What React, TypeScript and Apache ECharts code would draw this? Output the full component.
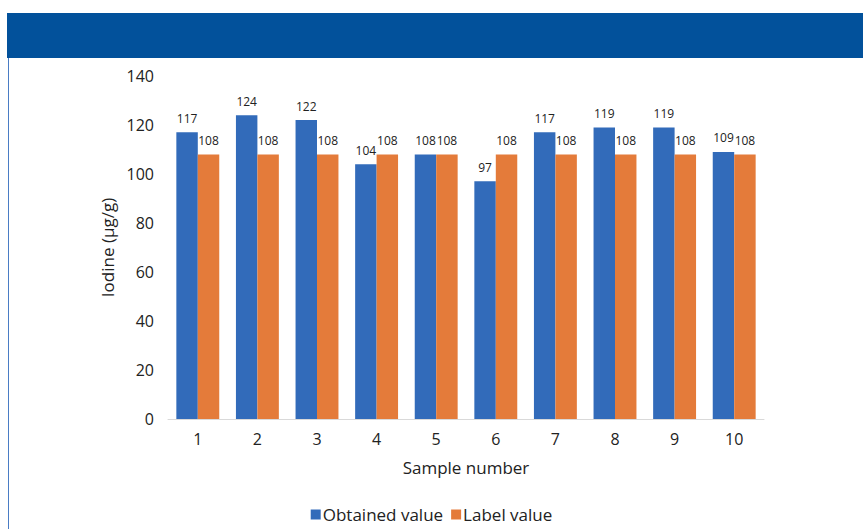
import React, { useEffect, useRef } from "react";
import * as echarts from "echarts";

const categories = ["1", "2", "3", "4", "5", "6", "7", "8", "9", "10"];
const obtainedValues = [117, 124, 122, 104, 108, 97, 117, 119, 119, 109];
const labelValues = [108, 108, 108, 108, 108, 108, 108, 108, 108, 108];

const FONT = "'Open Sans', 'Noto Sans', sans-serif";

export default function App() {
  const ref = useRef<HTMLDivElement>(null);
  useEffect(() => {
    if (!ref.current) return;
    const chart = echarts.init(ref.current, null, { renderer: "svg" });
    chart.setOption({
      animation: false,
      backgroundColor: "#ffffff",
      textStyle: { fontFamily: FONT },
      graphic: [
        {
          type: "rect",
          shape: { x: 7, y: 13, width: 856, height: 45 },
          style: { fill: "#02519B" },
          silent: true,
        },
        {
          type: "line",
          shape: { x1: 8.5, y1: 58, x2: 8.5, y2: 529 },
          style: { stroke: "#4a7cc4", lineWidth: 1 },
          silent: true,
        },
      ],
      grid: { left: 168, right: 99, top: 76, bottom: 110, containLabel: false },
      legend: {
        bottom: 1,
        left: "center",
        itemWidth: 10,
        itemHeight: 10,
        itemGap: 8,
        icon: "rect",
        textStyle: { fontSize: 17, color: "#222", fontFamily: FONT, padding: [0, 0, 0, -3] },
        data: ["Obtained value", "Label value"],
      },
      xAxis: {
        type: "category",
        data: categories,
        name: "Sample number",
        nameLocation: "middle",
        nameGap: 40,
        nameTextStyle: { fontSize: 17, color: "#222", fontFamily: FONT },
        axisLine: { show: true, lineStyle: { color: "#d9d9d9", width: 1 } },
        axisTick: { show: false },
        axisLabel: { fontSize: 16, color: "#222", margin: 12, fontFamily: FONT },
      },
      yAxis: {
        type: "value",
        min: 0,
        max: 140,
        interval: 20,
        name: "Iodine (µg/g)",
        nameLocation: "middle",
        nameGap: 49,
        nameTextStyle: { fontSize: 17, color: "#222", fontFamily: FONT },
        axisLine: { show: false },
        axisTick: { show: false },
        splitLine: { show: false },
        axisLabel: { fontSize: 16, color: "#222", margin: 14, fontFamily: FONT },
      },
      series: [
        {
          name: "Obtained value",
          type: "bar",
          data: obtainedValues,
          barGap: "0%",
          barCategoryGap: "28%",
          itemStyle: { color: "#326BBA" },
          label: { show: true, position: "top", distance: 8, fontSize: 12, color: "#222", fontFamily: FONT },
        },
        {
          name: "Label value",
          type: "bar",
          data: labelValues,
          barGap: "0%",
          barCategoryGap: "28%",
          itemStyle: { color: "#E47B3A" },
          label: { show: true, position: "top", distance: 8, fontSize: 12, color: "#222", fontFamily: FONT },
        },
      ],
    });
    return () => chart.dispose();
  }, []);
  return (
    <div
      ref={ref}
      style={{ position: "fixed", left: 0, top: 0, width: 863, height: 529 }}
    />
  );
}
